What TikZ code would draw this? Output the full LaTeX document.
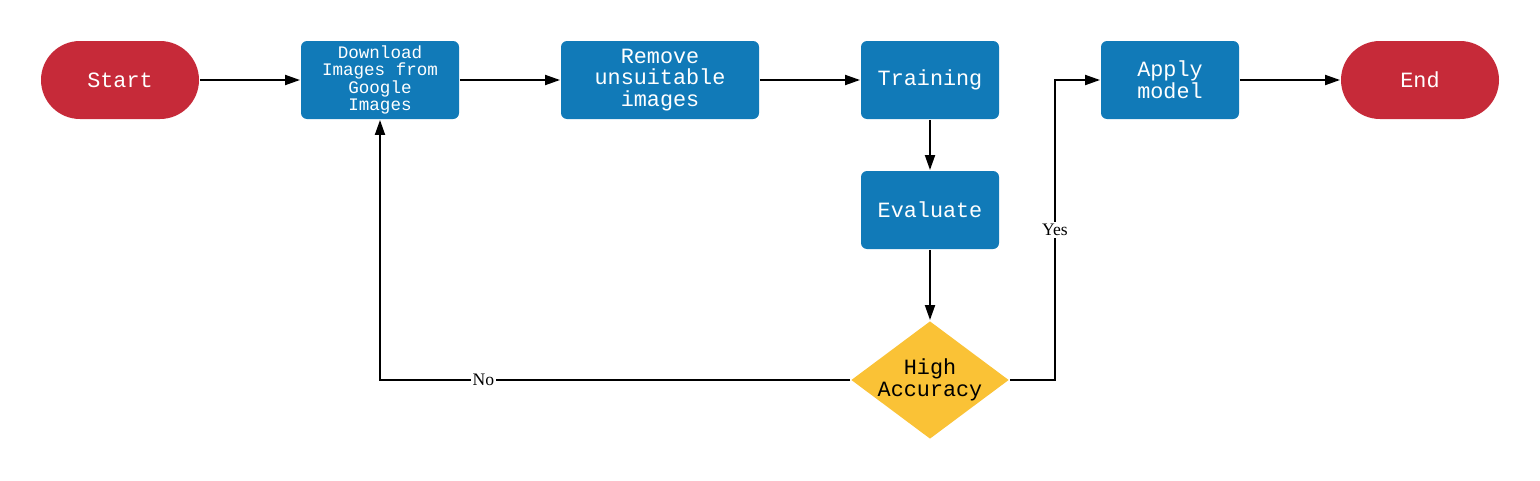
\documentclass[tikz,border=0pt]{standalone}
\usepackage{fontspec}
\setmonofont{Liberation Mono}
\newfontfamily\labelfont{Liberation Serif}
\usetikzlibrary{shapes.geometric,arrows.meta}
\definecolor{termred}{HTML}{C62A39}
\definecolor{stepblue}{HTML}{117AB8}
\definecolor{testyellow}{HTML}{FAC236}
\tikzset{
  term/.style={rectangle,rounded corners=0.78cm,fill=termred,text=white,minimum width=3.16cm,minimum height=1.56cm,font=\ttfamily\fontsize{12.4}{12.4}\selectfont},
  stepbox/.style={rectangle,rounded corners=0.12cm,fill=stepblue,text=white,minimum height=1.56cm,align=center,font=\ttfamily\fontsize{12.4}{12.4}\selectfont},
  test/.style={diamond,fill=testyellow,shape aspect=1.34,inner xsep=-0.15cm,inner ysep=0pt,minimum width=3.16cm,minimum height=2.36cm,align=center,font=\ttfamily\fontsize{12.4}{12.4}\selectfont},
  lbl/.style={fill=white,inner sep=1pt,font=\labelfont\fontsize{10}{12}\selectfont}
}
\begin{document}
\begin{tikzpicture}[>={Triangle[length=3mm,width=2mm]},line width=1.1pt]
\useasboundingbox (0,0) rectangle (30.8,9.6);
\node[term] (start) at (2.4,8) {Start};
\node[stepbox,minimum width=3.16cm,inner ysep=1pt,font=\ttfamily\fontsize{10}{10}\selectfont] (download) at (7.6,8) {Download\\Images from\\Google\\Images};
\node[stepbox,minimum width=3.96cm] (remove) at (13.2,8) {Remove\\unsuitable\\images};
\node[stepbox,minimum width=2.76cm] (training) at (18.6,8) {Training};
\node[stepbox,minimum width=2.76cm] (evaluate) at (18.6,5.4) {Evaluate};
\node[test] (accuracy) at (18.6,2) {High\\Accuracy};
\node[stepbox,minimum width=2.76cm] (apply) at (23.4,8) {Apply\\model};
\node[term] (end) at (28.4,8) {End};
\coordinate (yesbend) at (21.1,2);
\draw[->] (start)--(download);
\draw[->] (download)--(remove);
\draw[->] (remove)--(training);
\draw[->] (training)--(evaluate);
\draw[->] (evaluate)--(accuracy);
\draw[->] (accuracy.west)-|(download.south) node[lbl,pos=0.39] {No};
\draw[->] (accuracy.east)--(yesbend)|-(apply.west) node[lbl,pos=0.25] {Yes};
\draw[->] (apply)--(end);
\end{tikzpicture}
\end{document}
